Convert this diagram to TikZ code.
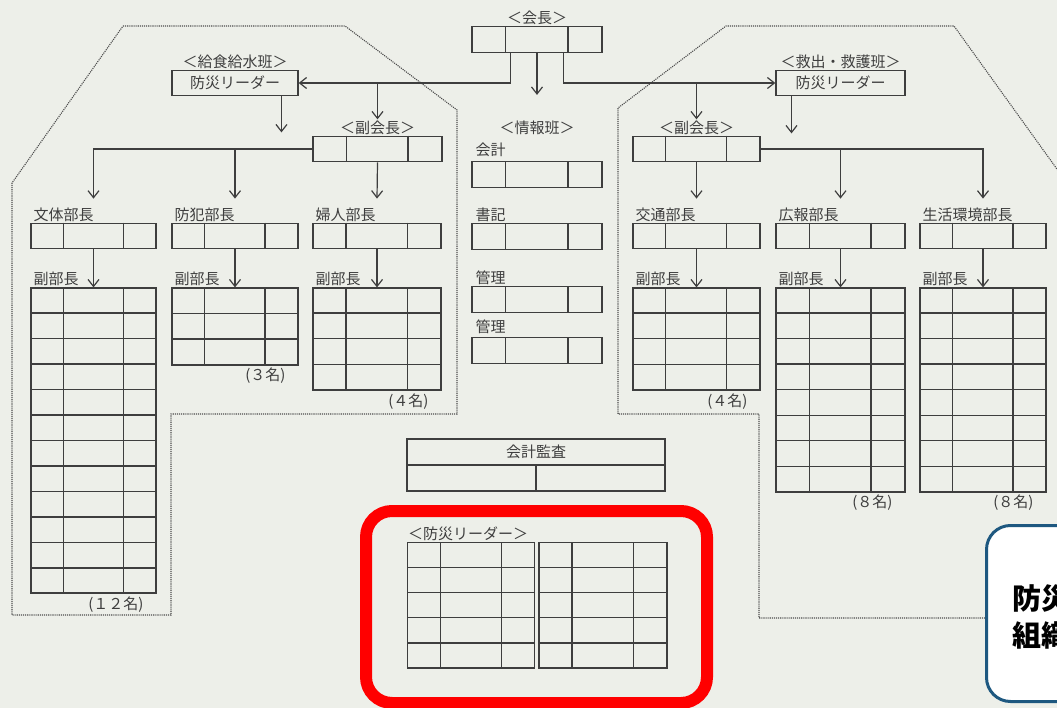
\documentclass[tikz,border=0pt]{standalone}
\usepackage{fontspec}
\setmainfont{Noto Sans CJK JP}
\usepackage{xcolor}
\usepackage{tikz}
\usetikzlibrary{calc,positioning,arrows.meta}

\definecolor{paper}{RGB}{237,239,233}
\definecolor{ink}{RGB}{62,62,62}
\definecolor{alert}{RGB}{255,0,0}
\definecolor{noteblue}{RGB}{30,88,128}

\begin{document}
\begin{tikzpicture}[x=1pt, y=-1pt, ink,
		lbl/.style = {font=\fontsize{15}{18}\selectfont, inner sep=1pt, text=ink},
		cnt/.style = {font=\fontsize{15}{18}\selectfont, inner sep=1pt, text=ink},
		cellrow/.style = {draw, rectangle, inner sep=0pt, minimum height=25.5pt, line width=1.3pt, font=\fontsize{15}{18}\selectfont, text=ink},
		grid/.style = {draw, rectangle, inner sep=0pt, line width=1.3pt},
		arr/.style = {-{Straight Barb[length=7pt,width=11pt]}, line width=1.2pt},
		outline/.style = {densely dotted, line width=1.1pt, black!70}]
		\useasboundingbox (0,0) rectangle (1057,708);
		\clip (0,0) rectangle (1057,708);
		\fill[paper] (0,0) rectangle (1057,708);
		
		% dotted group outlines
		\draw[outline] (123,26) -- (345,26) -- (457,110) -- (457,414) -- (171,414)
			-- (171,615) -- (12,615) -- (12,183) -- cycle;
		\draw[outline] (985,618) -- (759,618) -- (759,414) -- (618,414) -- (618,108)
			-- (726,26) -- (954,26) -- (1090,215);
		
		% top
		\node[cellrow, minimum width=130pt] (kaicho) at (537,39.5) {};
		\node[lbl, above=0pt of kaicho] (kaichoLbl) {＜会長＞};
		
		\node[cellrow, minimum width=126pt] (leaderL) at (235,83) {防災リーダー};
		\node[lbl, above=0pt of leaderL] (leaderLLbl) {＜給食給水班＞};
		\node[cellrow, minimum width=129pt] (leaderR) at (840.5,83) {防災リーダー};
		\node[lbl, above=0pt of leaderR] (leaderRLbl) {＜救出・救護班＞};
		
		\node[cellrow, minimum width=129pt] (fukuL) at (377.5,149) {};
		\node[lbl, above=0pt of fukuL] (fukuLLbl) {＜副会長＞};
		\node[cellrow, minimum width=127pt] (fukuR) at (696.5,149) {};
		\node[lbl, above=0pt of fukuR] (fukuRLbl) {＜副会長＞};
		
		% bucho rows
		\node[cellrow, minimum width=125pt] (buntai) at (93.5,236) {};
		\node[cellrow, minimum width=126pt] (bohan) at (235,236) {};
		\node[cellrow, minimum width=128pt] (fujin) at (377,236) {};
		\node[cellrow, minimum width=127pt] (kotsu) at (696.5,236) {};
		\node[cellrow, minimum width=129pt] (koho) at (840.5,236) {};
		\node[cellrow, minimum width=126pt] (seikatsu) at (983,236) {};
		\node[lbl, above right=0pt and 2pt of buntai.north west] {文体部長};
		\node[lbl, above right=0pt and 2pt of bohan.north west] {防犯部長};
		\node[lbl, above right=0pt and 2pt of fujin.north west] {婦人部長};
		\node[lbl, above right=0pt and 2pt of kotsu.north west] {交通部長};
		\node[lbl, above right=0pt and 2pt of koho.north west] {広報部長};
		\node[lbl, above right=0pt and 2pt of seikatsu.north west] {生活環境部長};
		
		% fukubucho tables
		\node[grid, minimum width=125pt, minimum height=12*25.4pt, below=38pt of buntai] (buntaiT) {};
		\node[grid, minimum width=126pt, minimum height=3*25.4pt, below=38pt of bohan] (bohanT) {};
		\node[grid, minimum width=128pt, minimum height=4*25.4pt, below=38pt of fujin] (fujinT) {};
		\node[grid, minimum width=127pt, minimum height=4*25.4pt, below=38pt of kotsu] (kotsuT) {};
		\node[grid, minimum width=129pt, minimum height=8*25.4pt, below=38pt of koho] (kohoT) {};
		\node[grid, minimum width=126pt, minimum height=8*25.4pt, below=38pt of seikatsu] (seikatsuT) {};
		\foreach \t in {buntaiT, bohanT, fujinT, kotsuT, kohoT, seikatsuT}
			\node[lbl, above right=0pt and 2pt of \t.north west] {副部長};
		\node[cnt, below left=2pt and 12pt of buntaiT.south east] {(１２名)};
		\node[cnt, below left=2pt and 12pt of bohanT.south east] {(３名)};
		\node[cnt, below left=2pt and 12pt of fujinT.south east] {(４名)};
		\node[cnt, below left=2pt and 12pt of kotsuT.south east] {(４名)};
		\node[cnt, below left=2pt and 12pt of kohoT.south east] {(８名)};
		\node[cnt, below left=2pt and 12pt of seikatsuT.south east] {(８名)};
		
		% johohan
		\node[cellrow, minimum width=130pt] (kaikei) at (537,174.5) {};
		\node[cellrow, minimum width=130pt] (shoki) at (537,236.5) {};
		\node[cellrow, minimum width=130pt] (kanri) at (537,299.5) {};
		\node[cellrow, minimum width=130pt] (kanriB) at (537,350.5) {};
		\node[lbl] (johoLbl) at (kaikei.north |- fukuLLbl) {＜情報班＞};
		\node[lbl, above right=3pt and 3pt of kaikei.north west] {会計};
		\node[lbl, above right=0pt and 3pt of shoki.north west] {書記};
		\node[lbl, above right=0pt and 3pt of kanri.north west] {管理};
		\node[lbl, above right=2pt and 3pt of kanriB.north west] {管理};
		
		% kansa
		\node[cellrow, minimum width=258pt, minimum height=52pt] (kansa) at (536,465) {};
		\draw[line width=1.3pt] (kansa.west) -- (kansa.east);
		\draw[line width=1.3pt] (kansa.center) -- (kansa.south);
		\node[lbl] (kansaLbl) at ($(kansa.north)!0.5!(kansa.center)$) {会計監査};
		
		% bosai leader tables
		\node[grid, minimum width=127pt, minimum height=5*25pt, anchor=north west] (bosaiA) at (407,542) {};
		\node[grid, minimum width=128pt, minimum height=5*25pt, right=3pt of bosaiA] (bosaiB) {};
		\node[lbl, above right=0pt and 0pt of bosaiA.north west] {＜防災リーダー＞};
		
		% cells
		\foreach \n in {kaicho, fukuL, fukuR, buntai, bohan, fujin, kotsu, koho, seikatsu,
			kaikei, shoki, kanri, kanriB, buntaiT, bohanT, fujinT, kotsuT, kohoT, seikatsuT, bosaiA, bosaiB} {
			\draw[line width=1.3pt] ($(\n.north west)!0.26!(\n.north east)$) -- ($(\n.south west)!0.26!(\n.south east)$)
				($(\n.north west)!0.735!(\n.north east)$) -- ($(\n.south west)!0.735!(\n.south east)$);
		}
		\foreach \t/\r in {buntaiT/12, bohanT/3, fujinT/4, kotsuT/4, kohoT/8, seikatsuT/8, bosaiA/5, bosaiB/5} {
			\foreach \i in {1,...,\r}
				\draw[line width=1.3pt] ($(\t.north west)!{\i/\r}!(\t.south west)$) -- ($(\t.north east)!{\i/\r}!(\t.south east)$);
		}
		
		% connectors
		\coordinate (kL) at ($(kaicho.south west)!0.3!(kaicho.south east)$);
		\coordinate (kR) at ($(kaicho.south west)!0.7!(kaicho.south east)$);
		\coordinate (johoTip) at ($(kaicho.south)+(0,42)$);
		\coordinate (leaderLfoot) at ($(leaderL.south west)!0.865!(leaderL.south east)$);
		\coordinate (leaderLtip) at ($(leaderLfoot)+(0,36)$);
		\coordinate (leaderRfoot) at ($(leaderR.south west)!0.124!(leaderR.south east)$);
		\coordinate (leaderRtip) at ($(leaderRfoot)+(0,37)$);
		
		\draw[arr] (kL) |- (leaderL);
		\draw[arr] (kR) |- (leaderR);
		\draw[arr] (kaicho.south) -- (johoTip);
		\draw[arr] (fukuL |- leaderL) -- (fukuLLbl.north);
		\draw[arr] (fukuR |- leaderR) -- (fukuRLbl.north);
		\draw[arr] (leaderLfoot) -- (leaderLtip);
		\draw[arr] (leaderRfoot) -- (leaderRtip);
		
		\draw[arr] (fukuL.west) -| ($(buntai.north)+(0,-24)$);
		\draw[arr] (fukuL.west -| bohan) -- ($(bohan.north)+(0,-24)$);
		\draw[arr] (fukuL.south) -- ($(fujin.north)+(0,-24)$);
		\draw[arr] (fukuR.south) -- ($(kotsu.north)+(0,-24)$);
		\draw[arr] (fukuR.east) -| ($(seikatsu.north)+(0,-24)$);
		\draw[arr] (fukuR.east -| koho) -- ($(koho.north)+(0,-24)$);
		
		\foreach \b/\t in {buntai/buntaiT, bohan/bohanT, fujin/fujinT, kotsu/kotsuT, koho/kohoT, seikatsu/seikatsuT}
			\draw[arr] (\b.south) -- (\t.north);
		
		% highlight and note
		\draw[alert, line width=12pt, rounded corners=26pt] (366,511) rectangle (707,703);
		\node[draw=noteblue, line width=3pt, fill=white, rounded corners=24pt, anchor=north west,
			minimum width=150pt, minimum height=176pt] (note) at (985,524) {};
		\node[font=\fontsize{29}{37}\selectfont\bfseries, text=black, align=left, anchor=west, inner sep=0pt]
			(noteTxt) at ($(note.west)+(27,4)$) {防災\\組織};
\end{tikzpicture}
\end{document}
